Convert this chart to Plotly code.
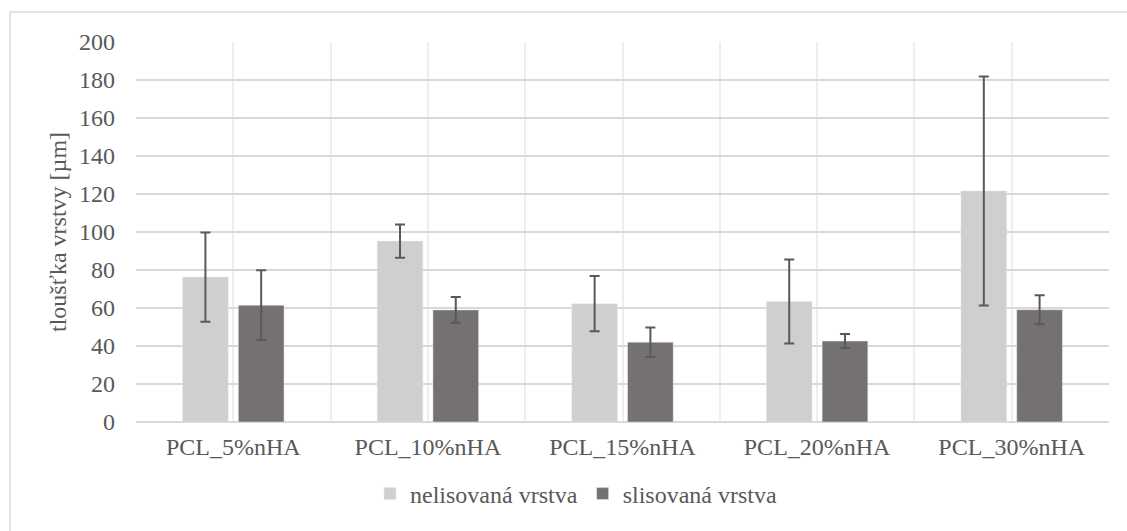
import plotly.graph_objects as go

categories = ["PCL_5%nHA", "PCL_10%nHA", "PCL_15%nHA", "PCL_20%nHA", "PCL_30%nHA"]
nelisovana = [76.3, 95.2, 62.3, 63.4, 121.6]
nelisovana_err = [23.5, 8.8, 14.6, 22.1, 60.3]
slisovana = [61.5, 59.0, 42.0, 42.6, 59.1]
slisovana_err = [18.4, 6.8, 7.8, 3.7, 7.6]
series_names = ["nelisovaná vrstva", "slisovaná vrstva"]
y_ticks = [0, 20, 40, 60, 80, 100, 120, 140, 160, 180, 200]
y_title = "tloušťka vrstvy [µm]"

FONT = "Liberation Serif, Times New Roman, serif"
TXT = "#595959"
W, H = 1127, 531
L, R, T, B = 136, 18, 42, 109
pw, ph = W - L - R, H - T - B

xpos = list(range(len(categories)))
tickvals = []
ticktext = []
for i, c in enumerate(categories):
    tickvals += [i - 0.5, i]
    ticktext += ["", c]
tickvals.append(len(categories) - 0.5)
ticktext.append("")

fig = go.Figure()
fig.add_trace(go.Bar(
    x=xpos, y=nelisovana, name=series_names[0], marker_color="#D0CECE",
    error_y=dict(type="data", array=nelisovana_err, visible=True,
                 color="#595959", thickness=2, width=5),
))
fig.add_trace(go.Bar(
    x=xpos, y=slisovana, name=series_names[1], marker_color="#767171",
    error_y=dict(type="data", array=slisovana_err, visible=True,
                 color="#595959", thickness=2, width=5),
))

fig.update_layout(
    width=W, height=H,
    margin=dict(l=L, r=R, t=T, b=B, pad=0),
    paper_bgcolor="white", plot_bgcolor="white",
    font=dict(family=FONT, size=24, color=TXT),
    barmode="group", bargap=0.427, bargroupgap=0.18,
    showlegend=True,
    legend=dict(orientation="h", x=(576 - L) / pw, xanchor="center",
                y=(T + ph - 494) / ph, yanchor="middle",
                font=dict(family=FONT, size=24, color=TXT),
                itemwidth=30, tracegroupgap=0, bgcolor="rgba(0,0,0,0)"),
    xaxis=dict(
        range=[-0.5, len(categories) - 0.5], tickmode="array",
        tickvals=tickvals, ticktext=ticktext, showgrid=True,
        gridcolor="#EEEEEE", gridwidth=1.5, zeroline=False,
        showline=False, ticks="", ticklabelstandoff=8,
        tickfont=dict(family=FONT, size=24, color=TXT),
    ),
    yaxis=dict(
        range=[0, 200], tickmode="array", tickvals=y_ticks,
        showgrid=True, gridcolor="#D9D9D9", gridwidth=1.5,
        zeroline=True, zerolinecolor="#D9D9D9", zerolinewidth=1.5,
        showline=False, ticks="", ticklabelstandoff=20,
        tickfont=dict(family=FONT, size=24, color=TXT),
    ),
    annotations=[dict(
        text=y_title, xref="paper", yref="paper",
        x=(58 - L) / pw, y=0.5, xanchor="center", yanchor="middle",
        textangle=-90, showarrow=False,
        font=dict(family=FONT, size=24, color=TXT),
    )],
    shapes=[dict(
        type="rect", xref="paper", yref="paper",
        x0=(10 - L) / pw, x1=(W + 5 - L) / pw,
        y0=(T + ph - (H + 5)) / ph, y1=(T + ph - 12) / ph,
        line=dict(color="#D9D9D9", width=1.5), fillcolor="rgba(0,0,0,0)",
        layer="below",
    )],
)

fig.write_html("out.html", config={"displayModeBar": False},
               post_script="document.body.style.margin='0';document.body.style.overflow='hidden';")
